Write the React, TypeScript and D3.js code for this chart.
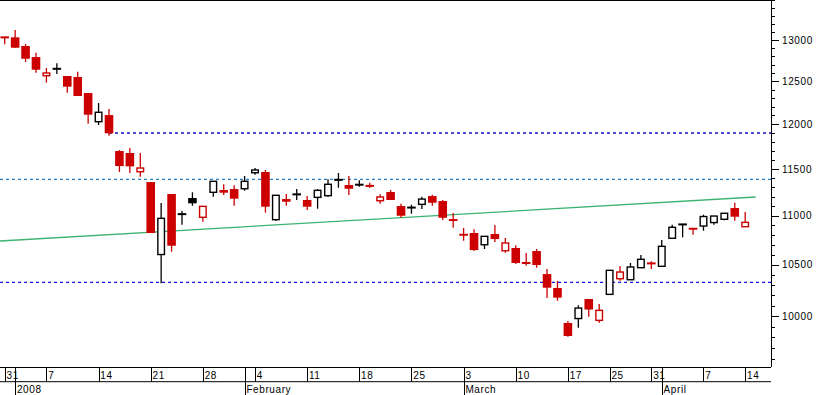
import React from 'react';
import * as d3 from 'd3';

// trading days shown on the chart
const dates = [
    '2007-12-31',
    '2008-01-02', '2008-01-03', '2008-01-04',
    '2008-01-07', '2008-01-08', '2008-01-09', '2008-01-10', '2008-01-11',
    '2008-01-14', '2008-01-15', '2008-01-16', '2008-01-17', '2008-01-18',
    '2008-01-21', '2008-01-22', '2008-01-23', '2008-01-24', '2008-01-25',
    '2008-01-28', '2008-01-29', '2008-01-30', '2008-01-31', '2008-02-01',
    '2008-02-04', '2008-02-05', '2008-02-06', '2008-02-07', '2008-02-08',
    '2008-02-11', '2008-02-12', '2008-02-13', '2008-02-14', '2008-02-15',
    '2008-02-18', '2008-02-19', '2008-02-20', '2008-02-21', '2008-02-22',
    '2008-02-25', '2008-02-26', '2008-02-27', '2008-02-28', '2008-02-29',
    '2008-03-03', '2008-03-04', '2008-03-05', '2008-03-06', '2008-03-07',
    '2008-03-10', '2008-03-11', '2008-03-12', '2008-03-13', '2008-03-14',
    '2008-03-17', '2008-03-18', '2008-03-19', '2008-03-20',
    '2008-03-25', '2008-03-26', '2008-03-27', '2008-03-28', '2008-03-31',
    '2008-04-01', '2008-04-02', '2008-04-03', '2008-04-04',
    '2008-04-07', '2008-04-08', '2008-04-09', '2008-04-10',
    '2008-04-14'
];

const opens = [
    13035, 13033, 12926, 12791, 12566, 12648, 12563, 12551, 12361, 12029,
    12105, 11698, 11676, 11470, 11358, 10602, 11230, 11016, 11187, 10984,
    11248, 11272, 11283, 11286, 11459, 11467, 10959, 11176, 11230, 11166,
    11194, 11212, 11380, 11326, 11333, 11326, 11158, 11251, 11102, 11090,
    11120, 11208, 11155, 10958, 10806, 10821, 10701, 10811, 10640, 10668,
    10522, 10637, 10407, 10270, 9934, 9976, 10163, 9959, 10208, 10361,
    10351, 10470, 10522, 10484, 10767, 10909, 10867, 10893, 10929, 10963,
    11081, 10886
];
const highs = [
    13043, 13124, 12951, 12844, 12659, 12715, 12563, 12614, 12361, 12244,
    12175, 11709, 11732, 11676, 11358, 11134, 11230, 11050, 11248, 11099,
    11366, 11334, 11323, 11424, 11511, 11489, 11216, 11230, 11283, 11208,
    11283, 11388, 11456, 11424, 11377, 11351, 11226, 11272, 11127, 11116,
    11201, 11222, 11166, 11029, 10872, 10859, 10787, 10904, 10770, 10695,
    10617, 10658, 10457, 10338, 9953, 10102, 10163, 10115, 10444, 10487,
    10517, 10597, 10534, 10749, 10907, 10911, 10867, 11011, 10997, 11026,
    11137, 11039
];
const lows = [
    12947, 12905, 12731, 12602, 12483, 12587, 12365, 12326, 12006, 11991,
    11870, 11467, 11456, 11416, 10821, 10316, 10630, 10907, 11105, 10938,
    11201, 11219, 11105, 11265, 11438, 11032, 10948, 11105, 11166, 11060,
    11074, 11201, 11297, 11219, 11308, 11294, 11127, 11166, 10979, 11021,
    11071, 11105, 10955, 10876, 10742, 10637, 10658, 10729, 10620, 10507,
    10490, 10470, 10173, 10146, 9805, 9889, 9993, 9937, 10208, 10341,
    10351, 10470, 10457, 10484, 10767, 10777, 10803, 10845, 10907, 10952,
    10948, 10886
];
const closes = [
    13030, 12905, 12771, 12638, 12599, 12650, 12436, 12326, 12109, 12137,
    11897, 11532, 11529, 11511, 10821, 10973, 10691, 11018, 11131, 11099,
    11366, 11244, 11180, 11366, 11489, 11095, 11216, 11148, 11222, 11095,
    11269, 11334, 11384, 11286, 11326, 11308, 11198, 11166, 11000, 11082,
    11176, 11137, 10979, 10952, 10800, 10647, 10787, 10759, 10719, 10517,
    10512, 10497, 10273, 10176, 9812, 10076, 10062, 10054, 10444, 10427,
    10477, 10554, 10504, 10685, 10880, 10911, 10863, 10992, 10997, 11026,
    10990, 10931
];

// horizontal support / resistance levels (value, first day index)
const levelValues = [11900, 11388, 10326];
const levelStarts = [10, -0.45, -0.45];

// green trend line, day index -> value
const trendIdx = [-0.45, 72];
const trendVals = [10739, 11198];

const priceLabels = [10000, 10500, 11000, 11500, 12000, 12500, 13000];

const monthNames = ['2008', 'February', 'March', 'April'];

export default function App() {
    const width = 817;
    const height = 395;
    const plotRight = 771;
    const plotBottom = 367;
    const rowMid = 381.7;
    const font = "'Liberation Sans', Arial, sans-serif";
    const red = '#cc0000';

    const parse = d3.timeParse('%Y-%m-%d');
    const days = dates.map((d) => parse(d) as Date);

    const x = d3.scaleLinear().domain([0, dates.length - 1]).range([4.7, 745.2]);
    const y = d3.scaleLog().domain([9527, 13504]).range([plotBottom, 0]);

    const weekTicks = days.map((d, i) => i).filter((i) => i === 0 || days[i].getDay() < days[i - 1].getDay());
    const monthTicks = days.map((d, i) => i).filter((i) => i > 0 && days[i].getMonth() !== days[i - 1].getMonth());

    const minorTicks = d3.range(9600, 13501, 100).filter((v) => v % 500 !== 0 || v > 13000);

    const levelColors = ['#1212cc', '#2482c2', '#1414e6'];

    const trendLine = d3.line<number>()
        .x((d, i) => x(trendIdx[i]))
        .y((d) => y(d));

    const candles = dates.map((d, i) => {
        const o = opens[i];
        const c = closes[i];
        const prev = i === 0 ? o : closes[i - 1];
        const color = c < prev ? red : '#000';
        const cx = x(i);
        const top = y(Math.max(o, c));
        const bottom = y(Math.min(o, c));
        const h = bottom - top;
        let body: React.ReactNode;
        if (h < 2.5) {
            body = <rect x={cx - 4.3} y={(top + bottom) / 2 - 1} width={8.6} height={2} fill={color} />;
        } else if (c < o) {
            body = <rect x={cx - 4.3} y={top} width={8.6} height={h} fill={color} />;
        } else {
            body = <rect x={cx - 3.3} y={top} width={6.6} height={h} fill="#fff" stroke={color} strokeWidth={1.4} />;
        }
        return (
            <g key={d}>
                <line x1={cx} x2={cx} y1={y(highs[i])} y2={y(lows[i])} stroke={color} strokeWidth={1.3} />
                {body}
            </g>
        );
    });

    return (
        <svg width={width} height={height} style={{ position: 'absolute', left: 0, top: 0, background: '#fff' }}
            fontFamily={font}>
            <rect width={width} height={height} fill="#fff" />

            {/* levels */}
            {levelValues.map((v, i) => (
                <line key={v} x1={Math.max(0, x(levelStarts[i]))} x2={plotRight} y1={y(v)} y2={y(v)}
                    stroke={levelColors[i]} strokeWidth={1.3} strokeDasharray="3,3" />
            ))}

            {/* trend */}
            <path d={trendLine(trendVals) ?? ''} fill="none" stroke="#3cb371" strokeWidth={1.3} />

            {candles}

            {/* frame */}
            <line x1={0} x2={plotRight} y1={0.5} y2={0.5} stroke="#000" />
            <line x1={plotRight + 0.5} x2={plotRight + 0.5} y1={0} y2={plotBottom} stroke="#000" />
            <line x1={0} x2={plotRight} y1={plotBottom + 0.5} y2={plotBottom + 0.5} stroke="#000" />
            <line x1={0} x2={plotRight} y1={rowMid} y2={rowMid} stroke="#000" />

            {/* price axis */}
            {minorTicks.map((v) => (
                <line key={v} x1={plotRight} x2={plotRight + 4} y1={Math.round(y(v)) + 0.5} y2={Math.round(y(v)) + 0.5} stroke="#000" />
            ))}
            {priceLabels.map((v) => (
                <g key={v}>
                    <line x1={plotRight} x2={plotRight + 8} y1={Math.round(y(v)) + 0.5} y2={Math.round(y(v)) + 0.5} stroke="#000" />
                    <text x={plotRight + 11} y={y(v)} dy="0.36em" fontSize={10} letterSpacing={0.6} fill="#000">{v}</text>
                </g>
            ))}

            {/* date axis */}
            {weekTicks.map((i) => (
                <g key={'w' + i}>
                    <line x1={Math.round(x(i)) + 0.5} x2={Math.round(x(i)) + 0.5} y1={plotBottom} y2={rowMid} stroke="#000" />
                    <text x={x(i) + 1.8} y={378.5} fontSize={10} letterSpacing={0.6} fill="#000">{days[i].getDate()}</text>
                </g>
            ))}
            {monthTicks.map((i, k) => (
                <g key={'m' + i}>
                    <line x1={Math.round(x(i)) + 0.5} x2={Math.round(x(i)) + 0.5} y1={plotBottom} y2={height} stroke="#000" />
                    <text x={x(i) + 1.8} y={392.5} fontSize={10} letterSpacing={0.6} fill="#000">{monthNames[k]}</text>
                </g>
            ))}
        </svg>
    );
}
